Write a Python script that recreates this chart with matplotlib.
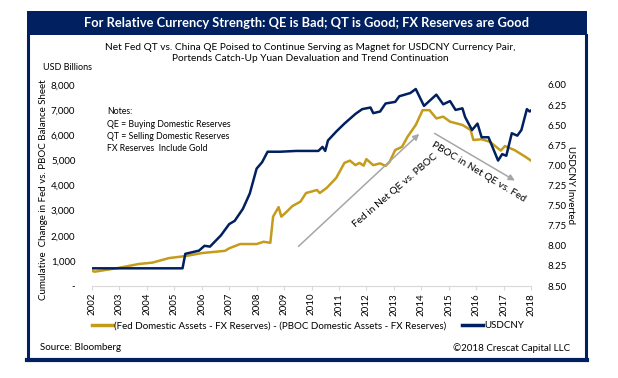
import matplotlib.pyplot as plt
import numpy as np
from matplotlib.patches import Rectangle
from matplotlib.lines import Line2D

plt.rcParams['font.family'] = ['Lato', 'DejaVu Sans']

NAVY = '#002060'
GOLD = '#c59b1b'
GRAY = '#a6a6a6'

# net fed vs pboc balance sheet change, USD billions
fed_years = [2002.0, 2002.1, 2002.95, 2003.7, 2004.2, 2004.8, 2005.4, 2006.0, 2006.85,
             2007.0, 2007.4, 2008.0, 2008.25, 2008.5, 2008.6, 2008.8, 2008.9, 2009.1,
             2009.3, 2009.6, 2009.8, 2010.2, 2010.3, 2010.55, 2010.9, 2011.2, 2011.4,
             2011.6, 2011.75, 2011.9, 2012.0, 2012.25, 2012.5, 2012.7, 2012.85, 2013.05,
             2013.3, 2013.5, 2013.8, 2014.05, 2014.3, 2014.55, 2014.8, 2015.05, 2015.5,
             2015.8, 2015.9, 2016.2, 2016.5, 2016.9, 2017.05, 2017.4, 2017.8, 2018.0]
fed_net = [600, 570, 716, 875, 930, 1110, 1190, 1310, 1400,
           1500, 1670, 1670, 1760, 1720, 2760, 3140, 2760, 2960,
           3180, 3360, 3700, 3820, 3700, 3900, 4300, 4900, 4990,
           4810, 4900, 4790, 5050, 4810, 4880, 4780, 4950, 5410,
           5540, 5940, 6410, 7000, 7000, 6670, 6740, 6540, 6410,
           6210, 5810, 5840, 5740, 5390, 5570, 5410, 5140, 4990]

# USDCNY spot
fx_years = [2002.0, 2005.3, 2005.4, 2005.9, 2006.1, 2006.3, 2006.7, 2007.0, 2007.2,
            2007.5, 2007.75, 2008.0, 2008.2, 2008.4, 2008.85, 2009.45, 2010.25, 2010.4,
            2010.5, 2010.6, 2010.9, 2011.2, 2011.6, 2011.85, 2012.15, 2012.25, 2012.5,
            2012.7, 2013.05, 2013.2, 2013.6, 2013.8, 2014.1, 2014.55, 2014.8, 2015.05,
            2015.25, 2015.5, 2015.6, 2015.85, 2016.05, 2016.2, 2016.45, 2016.8, 2016.95,
            2017.1, 2017.3, 2017.5, 2017.65, 2017.85, 2017.95, 2018.1]
usdcny = [8.28, 8.28, 8.10, 8.06, 8.00, 8.01, 7.87, 7.73, 7.69,
          7.54, 7.35, 7.04, 6.96, 6.83, 6.83, 6.82, 6.82, 6.77,
          6.82, 6.69, 6.58, 6.48, 6.36, 6.30, 6.28, 6.35, 6.33,
          6.23, 6.21, 6.14, 6.10, 6.05, 6.26, 6.12, 6.24, 6.20,
          6.31, 6.29, 6.40, 6.56, 6.48, 6.65, 6.65, 6.94, 6.86,
          6.88, 6.60, 6.63, 6.56, 6.30, 6.33, 6.29]

year_ticks = list(range(2002, 2019))
left_ticks = [0, 1000, 2000, 3000, 4000, 5000, 6000, 7000, 8000]
left_labels = ['-', '1,000', '2,000', '3,000', '4,000', '5,000', '6,000', '7,000', '8,000']
right_ticks = [6.0, 6.25, 6.5, 6.75, 7.0, 7.25, 7.5, 7.75, 8.0, 8.25, 8.5]

notes = ['Notes:', 'QE = Buying Domestic Reserves', 'QT = Selling Domestic Reserves',
         'FX Reserves  Include Gold']

fig = plt.figure(figsize=(6.18, 3.78), dpi=100)
W, H = 618, 378


def fx(px):
    return px / W


def fy(py):
    return 1 - py / H


# frame and banner
fig.patches.append(Rectangle((fx(27), fy(35)), fx(560), 24 / H, transform=fig.transFigure,
                             facecolor=NAVY, edgecolor='none', zorder=0))
fig.add_artist(Line2D([fx(28), fx(28)], [fy(35), fy(360)], color=NAVY, lw=2.2))
fig.add_artist(Line2D([fx(585.5), fx(585.5)], [fy(35), fy(360)], color=NAVY, lw=2.2))
fig.add_artist(Line2D([fx(27), fx(587)], [fy(359.5), fy(359.5)], color=NAVY, lw=3))
fig.text(fx(307), fy(23), 'For Relative Currency Strength: QE is Bad; QT is Good; FX Reserves are Good',
         color='white', fontsize=9.3, fontweight='bold', ha='center', va='center')
fig.text(fx(310), fy(53), 'Net Fed QT vs. China QE Poised to Continue Serving as Magnet for USDCNY Currency Pair,\n'
         'Portends Catch-Up Yuan Devaluation and Trend Continuation',
         fontsize=7.3, ha='center', va='center', linespacing=1.3)
fig.text(fx(43), fy(67), 'USD Billions', fontsize=6.5, ha='left', va='center')
fig.text(fx(44), fy(190), 'Cumulative  Change in Fed vs. PBOC Balance Sheet', fontsize=7,
         rotation=90, ha='center', va='center')
fig.text(fx(570), fy(185), 'USDCNY Inverted', fontsize=7, rotation=-90, ha='center', va='center')
fig.text(fx(40), fy(348), 'Source: Bloomberg', fontsize=7, ha='left', va='center')
fig.text(fx(570), fy(348), '\u00a92018 Crescat Capital LLC', fontsize=7, ha='right', va='center')

ax = fig.add_axes([fx(92), fy(286), fx(531 - 92), 201 / H])
ax.plot(fed_years, fed_net, color=GOLD, lw=1.8, zorder=3)
ax.set_xlim(2002, 2018)
ax.set_ylim(0, 8000)
ax.set_xticks(year_ticks)
ax.set_xticklabels([str(y) for y in year_ticks], rotation=90, fontsize=7)
ax.set_yticks(left_ticks)
ax.set_yticklabels(left_labels, fontsize=7)
for s in ['top', 'right', 'left']:
    ax.spines[s].set_visible(False)
ax.spines['bottom'].set_color('#d9d9d9')
ax.tick_params(axis='x', length=3, color='#d9d9d9', pad=2)
ax.tick_params(axis='y', length=0, pad=12)

ax2 = ax.twinx()
ax2.plot(fx_years, usdcny, color=NAVY, lw=1.8, zorder=4)
ax2.set_ylim(8.5, 6.0)
ax2.set_yticks(right_ticks)
ax2.set_yticklabels(['%.2f' % v for v in right_ticks], fontsize=7)
ax2.tick_params(axis='y', length=0, pad=12)
for s in ['top', 'right', 'left', 'bottom']:
    ax2.spines[s].set_visible(False)

ax.text(2002.55, 6200, '\n'.join(notes), fontsize=6.3, ha='left', va='center', linespacing=1.45)

# trend arrows
ax.annotate('', xy=(2014.0, 6130), xytext=(2009.45, 1500),
            arrowprops=dict(arrowstyle='-|>', color=GRAY, lw=1.1, mutation_scale=9))
ax.annotate('', xy=(2017.5, 4140), xytext=(2014.4, 6130),
            arrowprops=dict(arrowstyle='-|>', color=GRAY, lw=1.1, mutation_scale=9))
ax.text(2013.05, 3800, 'Fed in Net QE vs. PBOC', fontsize=7.3, rotation=40.5,
        ha='center', va='center', rotation_mode='anchor')
ax.text(2016.1, 4550, 'PBOC in Net QE vs. Fed', fontsize=7.3, rotation=-31,
        ha='center', va='center', rotation_mode='anchor')

handles = [Line2D([], [], color=GOLD, lw=2.5), Line2D([], [], color=NAVY, lw=2.5)]
fig.legend(handles, ['(Fed Domestic Assets - FX Reserves) - (PBOC Domestic Assets - FX Reserves)', 'USDCNY'],
           loc='center', bbox_to_anchor=(fx(308), fy(326)), ncol=2, frameon=False, fontsize=7,
           handlelength=2.2, handletextpad=0.1, columnspacing=1.6)

fig.savefig('out.png', dpi=100)
